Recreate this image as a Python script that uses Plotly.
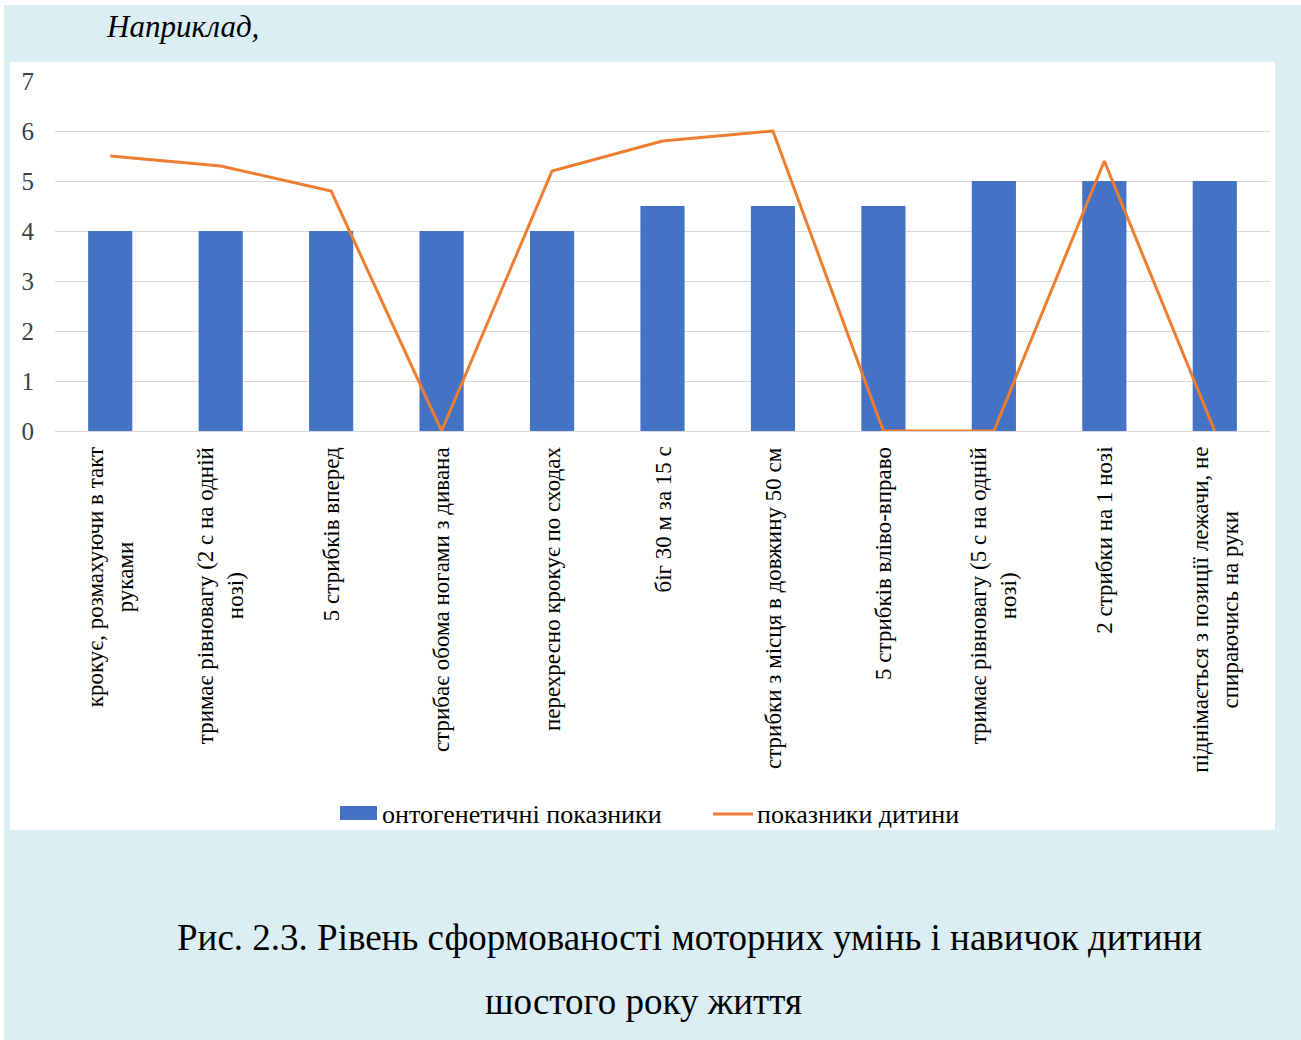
import plotly.graph_objects as go

categories = [
    "крокує, розмахуючи в такт<br>руками",
    "тримає рівновагу (2 с на одній<br>нозі)",
    "5 стрибків вперед",
    "стрибає обома ногами з дивана",
    "перехресно крокує по сходах",
    "біг 30 м за 15 с",
    "стрибки з місця в довжину 50 см",
    "5 стрибків вліво-вправо",
    "тримає рівновагу (5 с на одній<br>нозі)",
    "2 стрибки на 1 нозі",
    "піднімається з позиції лежачи, не<br>спираючись на руки",
]
ontogenetic = [4, 4, 4, 4, 4, 4.5, 4.5, 4.5, 5, 5, 5]
child = [5.5, 5.3, 4.8, 0, 5.2, 5.8, 6.0, 0, 0, 5.4, 0]
y_ticks = [0, 1, 2, 3, 4, 5, 6, 7]
series_names = ["онтогенетичні показники", "показники дитини"]

BG = "#DAEEF3"
SERIF = "Liberation Serif"
BLUE = "#4472C4"
ORANGE = "#ED7D31"

# layout geometry (pixels)
W, H = 1301, 1040
L, R, T, B = 55, 1270, 81, 431
pw, ph = R - L, B - T


def px(x):
    return (x - L) / pw


def py(y):
    return (B - y) / ph


idx = list(range(len(categories)))

fig = go.Figure()
fig.add_trace(go.Bar(
    x=idx, y=ontogenetic, name=series_names[0],
    marker=dict(color=BLUE, line=dict(width=0)), width=0.4,
))
fig.add_trace(go.Scatter(
    x=idx, y=child, name=series_names[1], mode="lines",
    line=dict(color=ORANGE, width=3),
))

shapes = [
    dict(type="rect", xref="paper", yref="paper", layer="below",
         x0=px(10), x1=px(1275), y0=py(830), y1=py(62),
         fillcolor="white", line=dict(width=0)),
    dict(type="rect", xref="paper", yref="paper", layer="below",
         x0=px(-5), x1=px(1310), y0=py(5), y1=py(-5),
         fillcolor="white", line=dict(width=0)),
    dict(type="rect", xref="paper", yref="paper", layer="below",
         x0=px(-5), x1=px(4), y0=py(1045), y1=py(-5),
         fillcolor="white", line=dict(width=0)),
    # custom legend symbols
    dict(type="rect", xref="paper", yref="paper",
         x0=px(340), x1=px(377), y0=py(820), y1=py(806),
         fillcolor=BLUE, line=dict(width=0)),
    dict(type="line", xref="paper", yref="paper",
         x0=px(713), x1=px(753), y0=py(814), y1=py(814),
         line=dict(color=ORANGE, width=3)),
]

annotations = [
    dict(text="<i>Наприклад,</i>", xref="paper", yref="paper",
         x=px(104), y=py(27), xanchor="left", yanchor="middle",
         showarrow=False, font=dict(family=SERIF, size=31, color="black")),
    dict(text="Рис. 2.3. Рівень сформованості моторних умінь і навичок дитини",
         xref="paper", yref="paper", x=px(690), y=py(938),
         xanchor="center", yanchor="middle", showarrow=False,
         font=dict(family=SERIF, size=37, color="black")),
    dict(text="шостого року життя",
         xref="paper", yref="paper", x=px(643), y=py(1001),
         xanchor="center", yanchor="middle", showarrow=False,
         font=dict(family=SERIF, size=37, color="black")),
    dict(text=series_names[0], xref="paper", yref="paper",
         x=px(380), y=py(815), xanchor="left", yanchor="middle",
         showarrow=False, font=dict(family=SERIF, size=26, color="black")),
    dict(text=series_names[1], xref="paper", yref="paper",
         x=px(755), y=py(815), xanchor="left", yanchor="middle",
         showarrow=False, font=dict(family=SERIF, size=26, color="black")),
]

# category labels (rotated, centred lines)
for i, cat in zip(idx, categories):
    annotations.append(dict(
        text=cat, xref="x", yref="paper", x=i, y=py(445),
        xanchor="center", yanchor="top", textangle=-90, align="center",
        showarrow=False, font=dict(family=SERIF, size=23, color="black"),
    ))

fig.update_layout(
    width=W, height=H,
    margin=dict(l=L, r=W - R, t=T, b=H - B, pad=0),
    paper_bgcolor=BG, plot_bgcolor="white",
    shapes=shapes, annotations=annotations,
    showlegend=False,
    font=dict(family=SERIF, color="black"),
    bargap=0.6,
)
fig.update_xaxes(
    range=[-0.5, len(categories) - 0.5],
    tickmode="array", tickvals=idx, showticklabels=False,
    showgrid=False, showline=True, linecolor="#D9D9D9", linewidth=1,
    ticks="", automargin=False, zeroline=False,
)
fig.update_yaxes(
    range=[0, 7], tickmode="array", tickvals=y_ticks,
    tickfont=dict(family=SERIF, size=25, color="#404040"),
    showgrid=True, gridcolor="#D9D9D9", gridwidth=1,
    zeroline=False, showline=False, ticks="", automargin=False,
    ticklabelstandoff=20,
)

fig.write_html(
    "out.html",
    config={"displayModeBar": False},
    post_script="document.body.style.margin='0';document.body.style.padding='0';",
)
